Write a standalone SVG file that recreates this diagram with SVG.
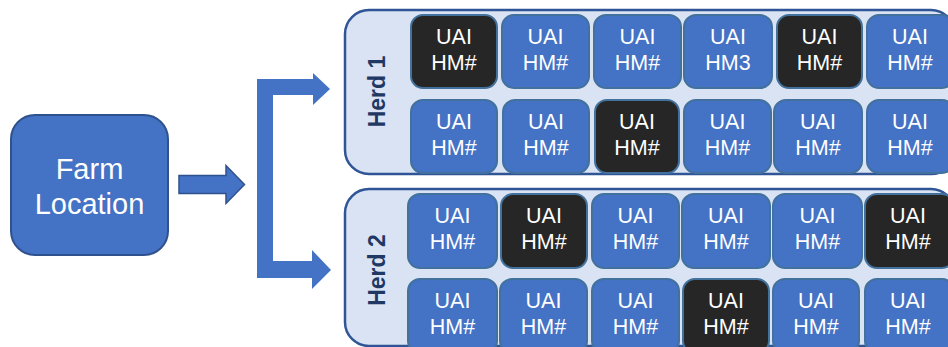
<svg xmlns="http://www.w3.org/2000/svg" width="948" height="347" viewBox="0 0 948 347">
  <style>
    .farm { fill: #4472C4; stroke: #2F528F; stroke-width: 2; }
    .farm-text { fill: #FFFFFF; font-family: "Liberation Sans", Arial, sans-serif; font-size: 29px; text-anchor: middle; }
    .herd { fill: #DAE3F3; stroke: #2F5597; stroke-width: 2.5; }
    .herd-label { fill: #1F3864; font-family: "Liberation Sans", Arial, sans-serif; font-size: 23px; font-weight: bold; text-anchor: middle; }
    .cell { fill: #4472C4; stroke: #41719C; stroke-width: 2; }
    .cell.dark { fill: #262626; }
    .cell-text { fill: #FFFFFF; font-family: "Liberation Sans", Arial, sans-serif; font-size: 21.5px; text-anchor: middle; }
    .arrow { fill: #4472C4; stroke: #2F528F; stroke-width: 1.5; }
    .bracket { fill: #4472C4; }
  </style>

  <!-- Farm location node -->
  <g id="farm">
    <rect class="farm" x="11" y="115" width="157" height="140" rx="24"/>
    <text class="farm-text" x="89.5" y="179">Farm</text>
    <text class="farm-text" x="89.5" y="214">Location</text>
  </g>

  <!-- Connectors -->
  <g id="connectors">
    <path class="arrow" d="M179,175.5 H226 V165.5 L244.5,184.5 L226,203.5 V193.5 H179 Z"/>
    <path class="bracket" d="M257,79 H313 V73 L330,89 L313,105 V95 H273 V261 H312 V250 L331,270 L312,289 V278 H257 Z"/>
  </g>

  <!-- Herd 1 -->
  <g id="herd1">
    <rect class="herd" x="345" y="10" width="610" height="164" rx="24"/>
    <text class="herd-label" transform="translate(385,91.5) rotate(-90)">Herd 1</text>
    <g id="herd1-cell1"><rect class="cell dark" x="411" y="15" width="86" height="73" rx="12"/><text class="cell-text" x="454" y="44">UAI</text><text class="cell-text" x="454" y="70">HM#</text></g>
    <g id="herd1-cell2"><rect class="cell" x="502" y="15" width="87" height="73" rx="12"/><text class="cell-text" x="545.5" y="44">UAI</text><text class="cell-text" x="545.5" y="70">HM#</text></g>
    <g id="herd1-cell3"><rect class="cell" x="594" y="15" width="87" height="73" rx="12"/><text class="cell-text" x="637.5" y="44">UAI</text><text class="cell-text" x="637.5" y="70">HM#</text></g>
    <g id="herd1-cell4"><rect class="cell" x="684" y="15" width="88" height="73" rx="12"/><text class="cell-text" x="728" y="44">UAI</text><text class="cell-text" x="728" y="70">HM3</text></g>
    <g id="herd1-cell5"><rect class="cell dark" x="777" y="15" width="85" height="73" rx="12"/><text class="cell-text" x="819.5" y="44">UAI</text><text class="cell-text" x="819.5" y="70">HM#</text></g>
    <g id="herd1-cell6"><rect class="cell" x="867" y="15" width="87" height="73" rx="12"/><text class="cell-text" x="910" y="44">UAI</text><text class="cell-text" x="910" y="70">HM#</text></g>
    <g id="herd1-cell7"><rect class="cell" x="411" y="100" width="86" height="73" rx="12"/><text class="cell-text" x="454" y="129">UAI</text><text class="cell-text" x="454" y="155">HM#</text></g>
    <g id="herd1-cell8"><rect class="cell" x="503" y="100" width="86" height="73" rx="12"/><text class="cell-text" x="546" y="129">UAI</text><text class="cell-text" x="546" y="155">HM#</text></g>
    <g id="herd1-cell9"><rect class="cell dark" x="595" y="100" width="84" height="73" rx="12"/><text class="cell-text" x="637" y="129">UAI</text><text class="cell-text" x="637" y="155">HM#</text></g>
    <g id="herd1-cell10"><rect class="cell" x="684" y="100" width="87" height="73" rx="12"/><text class="cell-text" x="727.5" y="129">UAI</text><text class="cell-text" x="727.5" y="155">HM#</text></g>
    <g id="herd1-cell11"><rect class="cell" x="774" y="100" width="88" height="73" rx="12"/><text class="cell-text" x="818" y="129">UAI</text><text class="cell-text" x="818" y="155">HM#</text></g>
    <g id="herd1-cell12"><rect class="cell" x="867" y="100" width="87" height="73" rx="12"/><text class="cell-text" x="910" y="129">UAI</text><text class="cell-text" x="910" y="155">HM#</text></g>
  </g>

  <!-- Herd 2 -->
  <g id="herd2">
    <rect class="herd" x="345" y="189" width="610" height="157" rx="24"/>
    <text class="herd-label" transform="translate(385,270) rotate(-90)">Herd 2</text>
    <g id="herd2-cell1"><rect class="cell" x="408" y="194" width="89" height="74" rx="12"/><text class="cell-text" x="452.5" y="223">UAI</text><text class="cell-text" x="452.5" y="249">HM#</text></g>
    <g id="herd2-cell2"><rect class="cell dark" x="501" y="194" width="86" height="74" rx="12"/><text class="cell-text" x="544" y="223">UAI</text><text class="cell-text" x="544" y="249">HM#</text></g>
    <g id="herd2-cell3"><rect class="cell" x="592" y="194" width="87" height="74" rx="12"/><text class="cell-text" x="635.5" y="223">UAI</text><text class="cell-text" x="635.5" y="249">HM#</text></g>
    <g id="herd2-cell4"><rect class="cell" x="682" y="194" width="88" height="74" rx="12"/><text class="cell-text" x="726" y="223">UAI</text><text class="cell-text" x="726" y="249">HM#</text></g>
    <g id="herd2-cell5"><rect class="cell" x="773" y="194" width="89" height="74" rx="12"/><text class="cell-text" x="817.5" y="223">UAI</text><text class="cell-text" x="817.5" y="249">HM#</text></g>
    <g id="herd2-cell6"><rect class="cell dark" x="865" y="194" width="89" height="74" rx="12"/><text class="cell-text" x="908" y="223">UAI</text><text class="cell-text" x="908" y="249">HM#</text></g>
    <g id="herd2-cell7"><rect class="cell" x="408" y="279" width="89" height="74" rx="12"/><text class="cell-text" x="452.5" y="308">UAI</text><text class="cell-text" x="452.5" y="334">HM#</text></g>
    <g id="herd2-cell8"><rect class="cell" x="500" y="279" width="87" height="74" rx="12"/><text class="cell-text" x="543.5" y="308">UAI</text><text class="cell-text" x="543.5" y="334">HM#</text></g>
    <g id="herd2-cell9"><rect class="cell" x="592" y="279" width="87" height="74" rx="12"/><text class="cell-text" x="635.5" y="308">UAI</text><text class="cell-text" x="635.5" y="334">HM#</text></g>
    <g id="herd2-cell10"><rect class="cell dark" x="683" y="279" width="86" height="74" rx="12"/><text class="cell-text" x="726" y="308">UAI</text><text class="cell-text" x="726" y="334">HM#</text></g>
    <g id="herd2-cell11"><rect class="cell" x="773" y="279" width="86" height="74" rx="12"/><text class="cell-text" x="816" y="308">UAI</text><text class="cell-text" x="816" y="334">HM#</text></g>
    <g id="herd2-cell12"><rect class="cell" x="865" y="279" width="89" height="74" rx="12"/><text class="cell-text" x="908" y="308">UAI</text><text class="cell-text" x="908" y="334">HM#</text></g>
  </g>
</svg>
